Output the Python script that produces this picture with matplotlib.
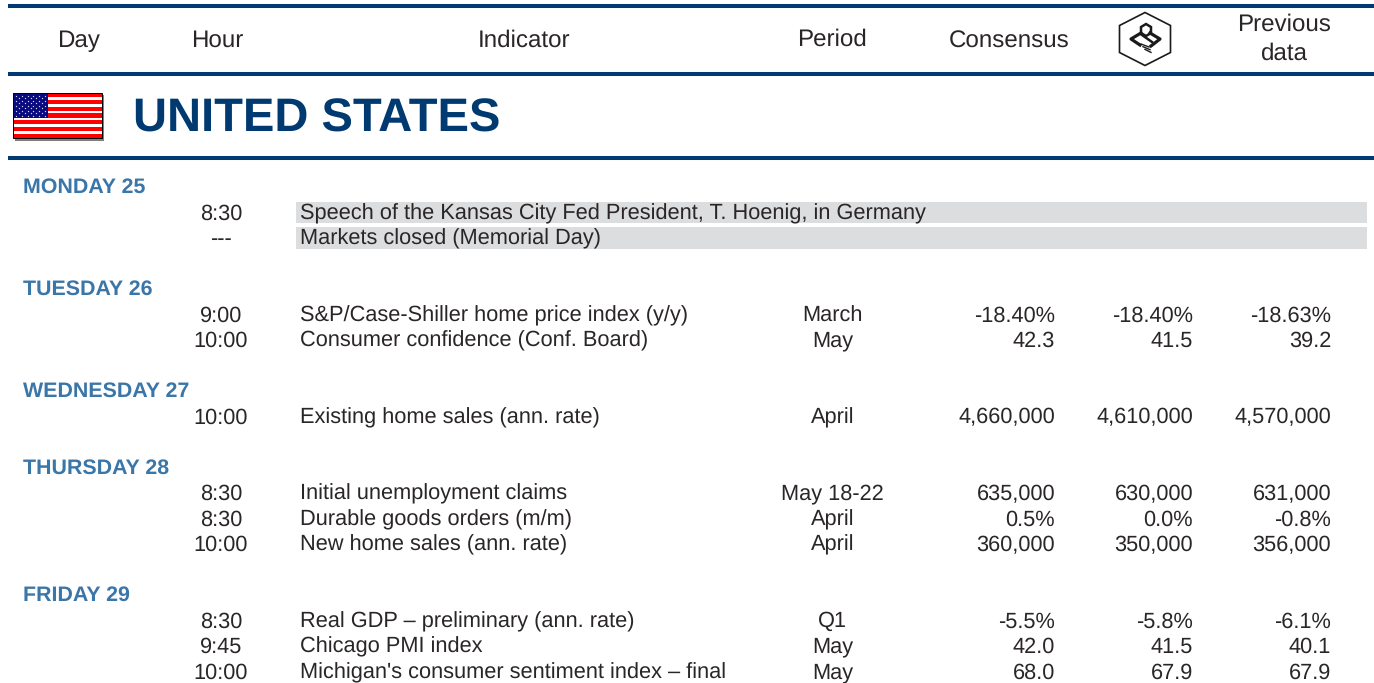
import matplotlib
matplotlib.use('Agg')
import matplotlib.pyplot as plt
from matplotlib.patches import Rectangle, Polygon

plt.rcParams['font.family'] = ['Liberation Sans', 'DejaVu Sans']
plt.rcParams['text.hinting'] = 'no_hinting'

NAVY = '#003a70'
DAYBLUE = '#3a76a8'
TXT = '#2a2627'
GREY = '#dcddde'

# the table contents
columns = ['Day', 'Hour', 'Indicator', 'Period', 'Consensus', 'Previous\ndata']
country = 'UNITED STATES'
days = ['MONDAY 25', 'TUESDAY 26', 'WEDNESDAY 27', 'THURSDAY 28', 'FRIDAY 29']
hours = [['8:30', '---'],
         ['9:00', '10:00'],
         ['10:00'],
         ['8:30', '8:30', '10:00'],
         ['8:30', '9:45', '10:00']]
indicators = [['Speech of the Kansas City Fed President, T. Hoenig, in Germany', 'Markets closed (Memorial Day)'],
              ['S&P/Case-Shiller home price index (y/y)', 'Consumer confidence (Conf. Board)'],
              ['Existing home sales (ann. rate)'],
              ['Initial unemployment claims', 'Durable goods orders (m/m)', 'New home sales (ann. rate)'],
              ['Real GDP \u2013 preliminary (ann. rate)', 'Chicago PMI index', "Michigan's consumer sentiment index \u2013 final"]]
periods = [['', ''],
           ['March', 'May'],
           ['April'],
           ['May 18-22', 'April', 'April'],
           ['Q1', 'May', 'May']]
consensus = [['', ''],
             ['-18.40%', '42.3'],
             ['4,660,000'],
             ['635,000', '0.5%', '360,000'],
             ['-5.5%', '42.0', '68.0']]
forecast = [['', ''],
            ['-18.40%', '41.5'],
            ['4,610,000'],
            ['630,000', '0.0%', '350,000'],
            ['-5.8%', '41.5', '67.9']]
previous = [['', ''],
            ['-18.63%', '39.2'],
            ['4,570,000'],
            ['631,000', '-0.8%', '356,000'],
            ['-6.1%', '40.1', '67.9']]


def draw_flag(ax):
    # shadow, white ground, red stripes, blue canton and stars
    ax.add_patch(Rectangle((14.5, 94.5), 89, 46, fc='#808080', ec='none', zorder=1))
    ax.add_patch(Rectangle((13, 93), 89, 45, fc='white', ec='none', zorder=2))
    for i in range(0, 13, 2):
        ax.add_patch(Rectangle((13, 93 + i * 45 / 13 - 0.3), 89, 45 / 13 + 0.6, fc='red', ec='none', zorder=2))
    ax.add_patch(Rectangle((13, 93), 35, 24.5, fc='#0a0a80', ec='none', zorder=3))
    xs, ys = [], []
    for r in range(9):
        n = 6 if r % 2 == 0 else 5
        for c in range(n):
            xs.append(16 + c * 5.8 + (0 if r % 2 == 0 else 2.9))
            ys.append(95.5 + r * 2.5)
    ax.scatter(xs, ys, s=0.9, c='#d8d8f0', linewidths=0, zorder=4)
    ax.add_patch(Rectangle((13, 93), 89, 45, fc='none', ec='black', lw=0.7, zorder=5))


def draw_logo(ax):
    cx = 1145
    dark = '#1a1a1a'
    hexa = [(cx, 12.5), (cx + 25.5, 25.5), (cx + 25.5, 52.5), (cx, 65.5), (cx - 25.5, 52.5), (cx - 25.5, 25.5)]
    ax.add_patch(Polygon(hexa, closed=True, fc='white', ec=dark, lw=1.2))
    top = [(cx + 1, 24), (cx + 6, 27), (cx + 6, 33), (cx + 1, 36), (cx - 4, 33), (cx - 4, 27)]
    ax.add_patch(Polygon(top, closed=True, fc='none', ec=dark, lw=1.8))
    ax.plot([cx + 5, cx + 15, cx + 6], [33, 39, 46], color=dark, lw=2.3)
    ax.plot([cx - 4, cx - 14, cx - 5], [33, 39, 45], color=dark, lw=2.3)
    ax.plot([cx - 3, cx + 7], [35, 42], color=dark, lw=1.8)
    for k in range(3):
        ax.plot([cx - 4 + k * 2, cx + 4 + k], [44 + k * 2.7, 47 + k * 2.7], color=dark, lw=1)


fig = plt.figure(figsize=(13.74, 6.83), dpi=100)
ax = fig.add_axes([0, 0, 1, 1])
ax.set_xlim(0, 1374)
ax.set_ylim(683, 0)
ax.axis('off')

for y in [6, 74, 158]:
    ax.plot([8, 1374], [y, y], color=NAVY, lw=2.9, solid_capstyle='butt')

# header row, the last one sits on two lines
head_x = [78, 217.5, 524, 832, 1009]
head_y = [47, 47, 47, 46, 47.5]
for name, x, y in zip(columns, head_x, head_y):
    ax.text(x, y, name, ha='center', va='baseline', fontsize=17.4, color=TXT)
prev1, prev2 = columns[5].split('\n')
ax.text(1284, 31, prev1, ha='center', va='baseline', fontsize=17.4, color=TXT)
ax.text(1284, 60, prev2, ha='center', va='baseline', fontsize=17.4, color=TXT)
draw_logo(ax)
draw_flag(ax)
ax.text(133, 132, country, ha='left', va='baseline', fontsize=33.9, fontweight='bold', color=NAVY)

row = 0
for d, day in enumerate(days):
    ax.text(23, 193 + row * 25.5, day, ha='left', va='baseline', fontsize=15.4, fontweight='bold', color=DAYBLUE)
    row += 1
    for i in range(len(hours[d])):
        y = 186 + row * 25.5
        base = y + 7.8
        if periods[d][i] == '':
            ax.add_patch(Rectangle((296, y - 10), 1071, 21.5, fc=GREY, ec='none', zorder=0))
        ax.text(221, base, hours[d][i], ha='center', va='baseline', fontsize=15.7, color=TXT)
        ax.text(299.5, base, indicators[d][i], ha='left', va='baseline', fontsize=15.66, color=TXT)
        ax.text(832.5, base, periods[d][i], ha='center', va='baseline', fontsize=15.7, color=TXT)
        ax.text(1055, base, consensus[d][i], ha='right', va='baseline', fontsize=15.7, color=TXT)
        ax.text(1193, base, forecast[d][i], ha='right', va='baseline', fontsize=15.7, color=TXT)
        ax.text(1331, base, previous[d][i], ha='right', va='baseline', fontsize=15.7, color=TXT)
        row += 1
    row += 1

fig.savefig('out.png', dpi=100, facecolor='white')
